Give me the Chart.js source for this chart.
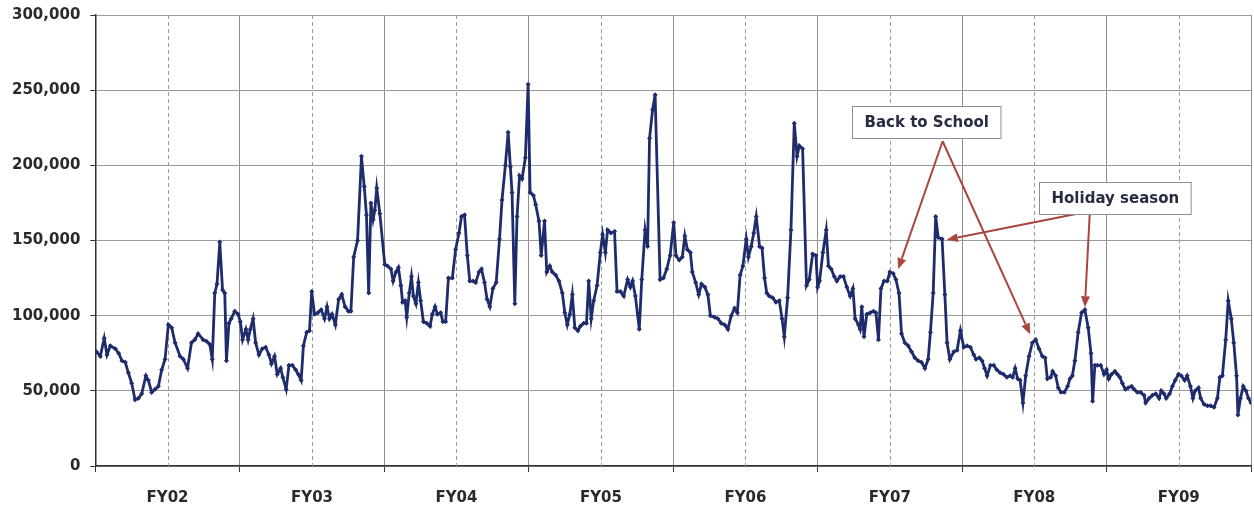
<!DOCTYPE html>
<html>
<head>
<meta charset="utf-8">
<script src="https://cdn.jsdelivr.net/npm/chart.js@4.4.0/dist/chart.umd.min.js"></script>
<style>
  html, body { margin: 0; padding: 0; background: #fff; }
  canvas { display: block; }
</style>
</head>
<body>
<canvas id="volumeChart" width="1254" height="508"></canvas>
<script>
// weekly volume per fiscal year: [week of year, thousands]
const fy02 = [[0.4,76],[1.8,73],[3.2,85],[4.2,74],[5.4,80],[7.2,78],[8.4,75],[9.6,70],[10.8,69],[11.9,62],[13.1,55],[14.3,44],[15.5,45],[16.7,48],[18.2,60],[19.1,57],[20.3,49],[21.5,51],[22.7,53],[23.9,64],[25.1,71],[26.3,94],[27.5,92],[28.7,82],[30.5,73],[31.7,71],[33.2,65],[34.6,82],[35.8,84],[37.0,88],[38.8,84],[40.0,83],[41.2,81],[42.1,71],[43.0,115],[43.8,121],[44.8,149],[45.8,117],[46.6,115],[47.2,70],[48.1,95],[48.9,98],[50.2,103],[51.4,101]];
const fy03 = [[0.2,96],[1.0,84],[2.2,91],[3.0,84],[3.8,91],[4.8,98],[5.7,82],[6.9,74],[8.1,78],[9.3,79],[10.5,74],[11.4,68],[12.5,73],[13.5,61],[14.7,65],[15.5,59],[16.7,51],[17.7,67],[18.9,67],[20.1,64],[21.1,61],[22.1,57],[22.9,80],[24.1,89],[25.1,90],[25.9,116],[26.9,101],[28.1,102],[29.3,104],[30.5,98],[31.4,106],[32.3,98],[33.2,101],[34.4,94],[35.6,111],[36.7,114],[37.9,106],[39.1,103],[40.0,103],[41.0,139],[42.4,150],[43.8,206],[44.8,186],[45.6,167],[46.4,115],[47.2,175],[48.0,164],[48.6,170],[49.3,185],[50.4,168]];
const fy04 = [[0.2,134],[1.2,133],[2.4,131],[3.2,123],[4.2,129],[5.1,132],[6.0,120],[6.6,109],[7.5,110],[8.1,99],[9.0,115],[9.8,126],[10.5,113],[11.4,108],[12.3,122],[13.1,110],[14.1,96],[15.3,95],[16.5,93],[17.3,101],[18.3,106],[19.1,101],[20.3,102],[21.1,96],[22.1,96],[23.1,125],[24.5,125],[25.7,144],[26.9,155],[27.8,166],[28.9,167],[29.9,140],[30.8,123],[32.0,123],[32.9,122],[34.1,129],[35.0,131],[36.1,122],[37.0,111],[38.0,106],[39.1,118],[40.3,122],[41.5,151],[42.4,177],[43.6,200],[44.6,222],[45.4,199],[46.0,182],[47.0,108],[47.8,166],[48.7,193],[49.6,191],[50.8,205],[51.8,254]];
const fy05 = [[0.5,182],[1.7,180],[2.5,174],[3.7,163],[4.5,140],[5.7,163],[6.5,129],[7.6,133],[8.5,129],[9.7,127],[10.9,123],[12.1,115],[13.0,102],[13.9,94],[14.8,101],[15.7,114],[16.6,92],[17.7,90],[18.6,93],[19.8,95],[20.8,95],[21.6,123],[22.5,98],[23.4,110],[24.6,120],[25.8,142],[26.6,154],[27.6,142],[28.4,157],[29.6,155],[30.9,156],[31.8,116],[33.0,116],[34.2,113],[35.6,124],[36.6,119],[37.4,123],[38.4,113],[39.8,91],[40.7,124],[41.9,157],[42.8,146],[43.5,218],[44.6,237],[45.5,247],[47.3,124],[48.5,125],[49.7,131],[50.9,140]];
const fy06 = [[0.2,162],[1.0,140],[2.2,137],[3.3,139],[4.2,153],[5.1,144],[6.2,142],[6.9,129],[8.1,122],[9.2,114],[10.2,121],[11.4,119],[12.5,114],[13.4,100],[14.9,99],[16.1,98],[17.3,95],[18.5,94],[19.7,91],[20.9,100],[22.1,105],[23.1,102],[24.1,127],[25.1,133],[26.3,151],[27.1,139],[28.1,146],[29.0,155],[29.9,166],[31.1,146],[32.0,145],[32.9,125],[33.7,115],[34.6,113],[35.8,112],[37.0,109],[38.2,110],[39.2,98],[40.0,86],[41.2,112],[42.4,157],[43.6,228],[44.6,206],[45.4,213],[46.6,211],[48.0,120],[49.0,124],[50.2,141],[51.4,140]];
const fy07 = [[0.0,119],[0.7,123],[1.9,142],[3.1,157],[3.9,133],[4.9,131],[6.0,126],[6.9,123],[8.1,126],[9.3,126],[10.5,119],[11.7,113],[12.7,118],[13.5,98],[14.7,94],[15.3,91],[15.9,106],[16.7,86],[17.7,101],[18.9,102],[20.1,103],[21.0,102],[21.9,84],[22.8,118],[23.9,123],[25.1,123],[26.0,129],[27.2,128],[28.2,124],[29.3,115],[30.2,88],[31.4,82],[32.6,80],[33.8,76],[35.0,72],[36.2,70],[37.4,69],[38.6,65],[39.8,71],[40.6,89],[41.6,115],[42.5,166],[43.4,152],[44.8,151],[45.8,114],[46.6,82],[47.6,71],[49.0,76],[50.2,77],[51.4,90]];
const fy08 = [[0.6,79],[1.8,80],[3.0,79],[4.2,74],[5.0,71],[6.2,72],[7.2,70],[8.1,65],[9.0,60],[10.2,67],[11.4,67],[12.5,64],[13.7,62],[14.9,61],[16.1,59],[17.3,60],[18.2,59],[19.1,65],[20.0,58],[20.9,57],[21.9,42],[22.9,60],[24.1,73],[25.3,82],[26.5,84],[27.7,78],[28.9,73],[29.9,72],[30.7,58],[31.9,59],[32.6,63],[33.7,60],[34.6,52],[35.6,49],[36.8,49],[38.0,53],[38.8,58],[39.7,60],[40.6,70],[41.8,89],[43.0,102],[44.2,104],[45.4,92],[46.4,75],[47.0,43],[47.8,67],[48.7,67],[49.9,67],[51.1,61]];
const fy09 = [[0.0,64],[0.8,58],[1.8,61],[3.0,63],[3.9,61],[4.8,59],[5.7,55],[6.8,51],[7.8,52],[9.0,53],[9.9,51],[11.1,49],[12.3,49],[13.5,47],[14.1,42],[15.3,45],[16.5,47],[17.7,48],[18.9,45],[19.7,50],[20.7,48],[21.5,45],[22.7,48],[23.7,53],[24.7,57],[25.9,61],[26.9,60],[28.1,57],[29.0,60],[30.2,53],[31.1,45],[31.9,50],[33.1,52],[33.9,45],[35.1,41],[36.3,40],[37.5,40],[38.7,39],[39.9,45],[40.8,59],[41.7,60],[42.9,84],[43.8,110],[44.9,98],[45.8,82],[46.8,60],[47.3,34],[48.2,45],[49.2,53],[50.2,50],[51.1,45],[52.0,42]];

const fiscalYears = ['FY02', 'FY03', 'FY04', 'FY05', 'FY06', 'FY07', 'FY08', 'FY09'];
const yearData = [fy02, fy03, fy04, fy05, fy06, fy07, fy08, fy09];
const weeksPerYear = 52;

// callouts: box centre, arrow origin and arrow tips, in [week since FY02 start, volume]
const callouts = [
    { text: 'Back to School', box: [299, 228700], from: [305, 216000], to: [[289, 131000], [336.5, 87600]] },
    { text: 'Holiday season', box: [367, 178000], from: [358, 169500], to: [[306.5, 150500], [356.2, 105600]] }
];

const axisFont = { family: '"DejaVu Sans", Verdana, sans-serif', weight: 'bold' };
const lineColor = '#1f2c6c';

const points = yearData.flatMap((year, i) =>
    year.map(([week, v]) => ({ x: i * weeksPerYear + week, y: v * 1000 }))
);
const totalWeeks = fiscalYears.length * weeksPerYear;

// dashed line through the middle of each fiscal year
const midYearLines = {
    id: 'midYearLines',
    beforeDatasetsDraw(chart) {
        const { ctx, chartArea, scales: { x } } = chart;
        ctx.save();
        ctx.strokeStyle = '#9c9c9c';
        ctx.lineWidth = 1;
        ctx.setLineDash([4, 3]);
        fiscalYears.forEach((fy, i) => {
            const px = Math.round(x.getPixelForValue(i * weeksPerYear + weeksPerYear / 2)) + 0.5;
            ctx.beginPath();
            ctx.moveTo(px, chartArea.top);
            ctx.lineTo(px, chartArea.bottom);
            ctx.stroke();
        });
        ctx.restore();
    }
};

function arrow(ctx, x1, y1, x2, y2) {
    const ang = Math.atan2(y2 - y1, x2 - x1);
    const len = 11, half = 4.5;
    const bx = x2 - len * Math.cos(ang), by = y2 - len * Math.sin(ang);
    ctx.beginPath();
    ctx.moveTo(x1, y1);
    ctx.lineTo(bx, by);
    ctx.stroke();
    ctx.beginPath();
    ctx.moveTo(x2, y2);
    ctx.lineTo(bx + half * Math.sin(ang), by - half * Math.cos(ang));
    ctx.lineTo(bx - half * Math.sin(ang), by + half * Math.cos(ang));
    ctx.closePath();
    ctx.fill();
}

const calloutLabels = {
    id: 'calloutLabels',
    afterDatasetsDraw(chart) {
        const { ctx, scales: { x, y } } = chart;
        ctx.save();
        callouts.forEach(c => {
            ctx.strokeStyle = '#a8463f';
            ctx.fillStyle = '#a8463f';
            ctx.lineWidth = 2;
            const ox = x.getPixelForValue(c.from[0]), oy = y.getPixelForValue(c.from[1]);
            c.to.forEach(t => arrow(ctx, ox, oy, x.getPixelForValue(t[0]), y.getPixelForValue(t[1])));

            ctx.font = 'bold 15px "DejaVu Sans", Verdana, sans-serif';
            const w = ctx.measureText(c.text).width + 24, h = 32;
            const bx = Math.round(x.getPixelForValue(c.box[0]) - w / 2) + 0.5;
            const by = Math.round(y.getPixelForValue(c.box[1]) - h / 2) + 0.5;
            ctx.fillStyle = '#fff';
            ctx.fillRect(bx, by, w, h);
            ctx.strokeStyle = '#8f8f8f';
            ctx.lineWidth = 1;
            ctx.strokeRect(bx, by, w, h);
            ctx.fillStyle = '#272c42';
            ctx.textAlign = 'center';
            ctx.textBaseline = 'middle';
            ctx.fillText(c.text, bx + w / 2, by + h / 2 + 1);
        });
        ctx.restore();
    }
};

new Chart(document.getElementById('volumeChart').getContext('2d'), {
    type: 'line',
    data: {
        datasets: [{
            data: points,
            borderColor: lineColor,
            borderWidth: 2.8,
            pointStyle: 'rectRot',
            pointRadius: 2.5,
            pointBackgroundColor: lineColor,
            pointBorderWidth: 0,
            tension: 0
        }]
    },
    options: {
        responsive: false,
        animation: false,
        devicePixelRatio: 1,
        layout: { autoPadding: false, padding: { left: 2, top: 0, right: 3, bottom: 0 } },
        plugins: { legend: { display: false }, tooltip: { enabled: false } },
        scales: {
            x: {
                type: 'linear',
                min: 0,
                max: totalWeeks,
                afterBuildTicks: axis => {
                    axis.ticks = [];
                    for (let v = 0; v <= totalWeeks; v += weeksPerYear / 2) axis.ticks.push({ value: v });
                },
                afterFit: axis => { axis.height = 42; axis.paddingRight = 0; axis.paddingLeft = 0; },
                grid: {
                    color: c => (c.tick && c.tick.value % weeksPerYear === 0) ? '#8e8e8e' : 'rgba(0,0,0,0)',
                    tickColor: c => (c.tick && c.tick.value % weeksPerYear === 0) ? '#333' : 'rgba(0,0,0,0)',
                    tickLength: 6
                },
                border: { color: '#333', width: 1.5 },
                ticks: {
                    autoSkip: false,
                    maxRotation: 0,
                    padding: 17,
                    color: '#2a2a2a',
                    font: { ...axisFont, size: 15 },
                    callback: v => v % weeksPerYear === weeksPerYear / 2 ? fiscalYears[(v - weeksPerYear / 2) / weeksPerYear] : ''
                }
            },
            y: {
                min: 0,
                max: 300000,
                afterFit: axis => { axis.paddingTop = 15; },
                grid: { color: '#9a9a9a', tickColor: '#333', tickLength: 5 },
                border: { color: '#333', width: 1.5 },
                ticks: {
                    stepSize: 50000,
                    padding: 10,
                    color: '#2a2a2a',
                    font: { ...axisFont, size: 15 },
                    callback: v => v.toLocaleString('en-US')
                }
            }
        }
    },
    plugins: [midYearLines, calloutLabels]
});
</script>
</body>
</html>
